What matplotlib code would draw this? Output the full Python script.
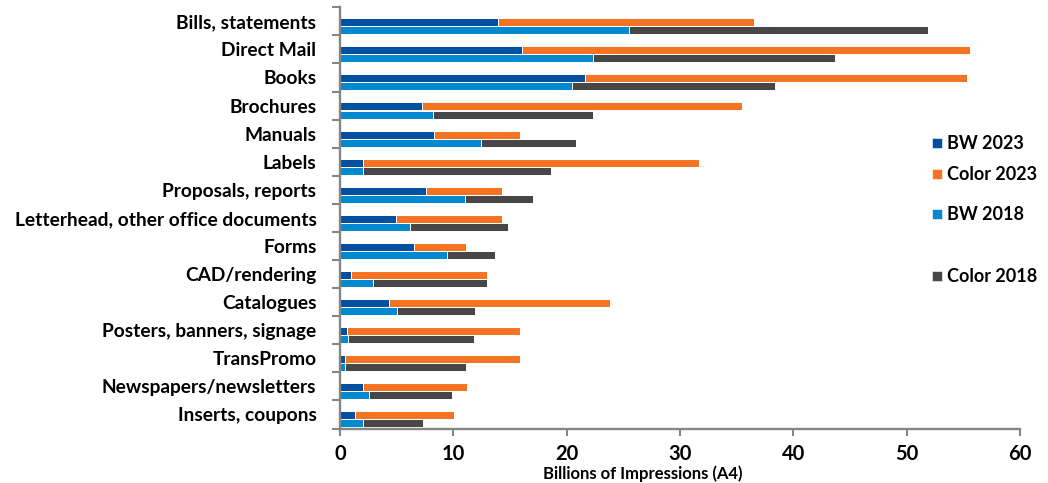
import matplotlib
matplotlib.use("Agg")
import matplotlib.pyplot as plt
import numpy as np
from matplotlib.lines import Line2D

categories = [
    "Bills, statements", "Direct Mail", "Books", "Brochures", "Manuals",
    "Labels", "Proposals, reports", "Letterhead, other office documents",
    "Forms", "CAD/rendering", "Catalogues", "Posters, banners, signage",
    "TransPromo", "Newspapers/newsletters", "Inserts, coupons",
]
bw_2023 = [13.9, 16.1, 21.6, 7.2, 8.3, 2.0, 7.6, 4.9, 6.5, 1.0, 4.3, 0.6, 0.4, 2.0, 1.3]
color_2023 = [22.6, 39.5, 33.7, 28.3, 7.6, 29.7, 6.7, 9.4, 4.6, 12.0, 19.5, 15.3, 15.5, 9.2, 8.8]
bw_2018 = [25.5, 22.3, 20.5, 8.2, 12.4, 2.0, 11.0, 6.2, 9.4, 2.9, 5.0, 0.7, 0.4, 2.6, 2.0]
color_2018 = [26.4, 21.4, 17.9, 14.1, 8.4, 16.6, 6.0, 8.6, 4.3, 10.1, 6.9, 11.1, 10.7, 7.3, 5.3]
series_labels = ["BW 2023", "Color 2023", "BW 2018", "Color 2018"]
x_ticks = [0, 10, 20, 30, 40, 50, 60]

C_BW23 = "#0350a0"
C_COL23 = "#f47423"
C_BW18 = "#0289d0"
C_COL18 = "#474747"
AXIS_GREY = "#858585"

FONT = "Lato"
plt.rcParams["font.family"] = [FONT, "DejaVu Sans"]
plt.rcParams["font.weight"] = "bold"

fig = plt.figure(figsize=(10.48, 4.83), dpi=100)
ax = fig.add_axes([340 / 1048, 1 - 428.5 / 483, 680 / 1048, 421.2 / 483])

n = len(categories)
pos = np.arange(n)
h = 0.285
y23 = pos + 0.03
y18 = pos + 0.32
edge = dict(edgecolor="white", linewidth=0.7)

ax.barh(y23, bw_2023, height=h, color=C_BW23, **edge)
ax.barh(y23, color_2023, left=bw_2023, height=h, color=C_COL23, **edge)
ax.barh(y18, bw_2018, height=h, color=C_BW18, **edge)
ax.barh(y18, color_2018, left=bw_2018, height=h, color=C_COL18, **edge)

ax.set_xlim(0, 60)
ax.set_ylim(n - 0.5, -0.5)

# category boundaries carry the tick marks, labels sit at category centres
ax.set_yticks(np.arange(-0.5, n, 1.0))
ax.set_yticklabels([])
ax.set_yticks(pos, minor=True)
ax.set_yticklabels(categories, minor=True, fontsize=13.8, fontweight="bold")
ax.tick_params(axis="y", which="major", length=6, width=1.5, color=AXIS_GREY, direction="out")
ax.tick_params(axis="y", which="minor", length=0, pad=17)

ax.set_xticks(x_ticks)
ax.set_xticklabels([str(v) for v in x_ticks], fontsize=14.5, fontweight="bold")
ax.tick_params(axis="x", length=5, width=1.5, color=AXIS_GREY, direction="out", pad=6)

for s in ["top", "right"]:
    ax.spines[s].set_visible(False)
for s in ["left", "bottom"]:
    ax.spines[s].set_color(AXIS_GREY)
    ax.spines[s].set_linewidth(1.7)

fig.text(643 / 1048, 1 - 473.5 / 483, "Billions of Impressions (A4)", ha="center", va="center",
         fontsize=12, fontweight="bold")

# legend entries with their own vertical spacing
legend_y = [143, 174, 214, 276]
legend_colors = [C_BW23, C_COL23, C_BW18, C_COL18]
for lab, yy, col in zip(series_labels, legend_y, legend_colors):
    fy = 1 - yy / 483
    fig.add_artist(Line2D([937 / 1048], [fy], marker="s", markersize=6.5, color=col,
                          markeredgecolor="white", markeredgewidth=0.4, linestyle="none",
                          transform=fig.transFigure))
    fig.text(947 / 1048, fy, lab, ha="left", va="center", fontsize=13, fontweight="bold")

fig.savefig("out.png", dpi=100, facecolor="white")
